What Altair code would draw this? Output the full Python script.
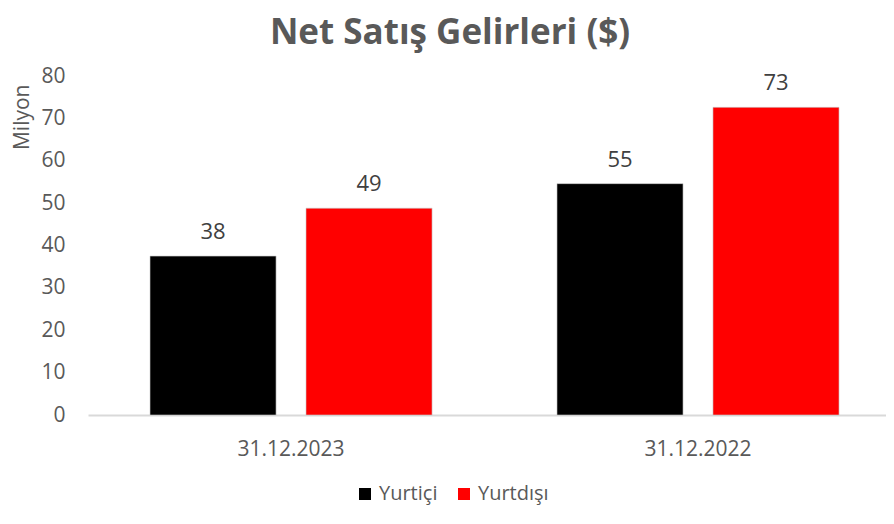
import altair as alt
import pandas as pd

dates = ["31.12.2023", "31.12.2022"]
series = ["Yurtiçi", "Yurtdışı"]
yurtici = [37.5, 54.6]
yurtdisi = [48.8, 72.6]
colors = ["#000000", "#ff0000"]
y_ticks = [0, 10, 20, 30, 40, 50, 60, 70, 80]

rows = []
for d, a, b in zip(dates, yurtici, yurtdisi):
    rows.append({"date": d, "series": series[0], "value": a})
    rows.append({"date": d, "series": series[1], "value": b})
df = pd.DataFrame(rows)

FONT = "Open Sans"
TXT = "#595959"

x = alt.X("date:N", sort=dates,
          scale=alt.Scale(paddingInner=0.307, paddingOuter=0.1339, align=0.569),
          axis=alt.Axis(title=None, labelAngle=0, ticks=False, domainColor="#d9d9d9",
                        domainWidth=2, labelFontSize=21, labelColor=TXT, labelFont=FONT,
                        labelPadding=23))
xo = alt.XOffset("series:N", sort=series,
                 scale=alt.Scale(paddingInner=0.192, paddingOuter=0))
y = alt.Y("value:Q", scale=alt.Scale(domain=[0, 80], nice=False),
          axis=alt.Axis(values=y_ticks, grid=False, domain=False, ticks=False,
                        labelFontSize=21, labelColor=TXT, labelFont=FONT, labelPadding=23,
                        title="Milyon", titleFont=FONT, titleFontSize=21, titleFontWeight="normal",
                        titleColor=TXT, titleX=-66, titleY=8, titleAlign="right",
                        titleBaseline="middle", titleAngle=-90))
color = alt.Color("series:N", sort=series,
                  scale=alt.Scale(domain=series, range=colors),
                  legend=alt.Legend(title=None, orient="none", direction="horizontal",
                                    legendX=267, legendY=408, symbolType="square",
                                    symbolSize=144, symbolStrokeWidth=0,
                                    labelFont=FONT, labelFontSize=20, labelColor=TXT,
                                    columnPadding=16, labelOffset=4))

base = alt.Chart(df)
bars = base.mark_bar(stroke="#c8c8c8", strokeWidth=1, strokeOpacity=0.6).encode(
    x=x, xOffset=xo, y=y, color=color)
labels = base.mark_text(baseline="bottom", dy=-12, font=FONT, fontSize=22, color="#404040").encode(
    x=x, xOffset=xo, y=y, text=alt.Text("value:Q", format=".0f"))

chart = (bars + labels).properties(
    width=798, height=339,
    autosize=alt.AutoSizeParams(type="none"),
    padding={"left": 80, "top": 68, "right": 0, "bottom": 100},
    title=alt.TitleParams("Net Satış Gelirleri ($)", font=FONT, fontSize=35, fontWeight="bold",
                          color=TXT, anchor="middle", frame="group", dx=-37, offset=14),
).configure_view(stroke=None)

chart.save("out.html", embed_options={"renderer": "svg", "actions": False})
